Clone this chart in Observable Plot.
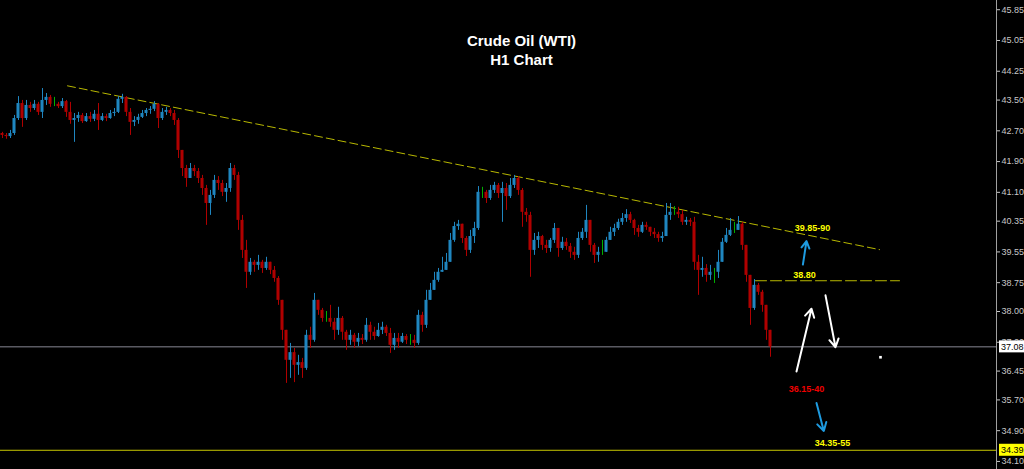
<!DOCTYPE html>
<html><head><meta charset="utf-8">
<script src="https://cdn.jsdelivr.net/npm/d3@7"></script>
<script src="https://cdn.jsdelivr.net/npm/@observablehq/plot@0.6"></script>
<style>html,body{margin:0;padding:0;background:#000;} #chart{width:1024px;height:469px;overflow:hidden}</style>
</head><body><div id="chart"></div>
<script>
// ---- Data (H1 candles) ----
const firstOpen = 42.63;
const closes = [
42.58,42.55,42.63,43.02,43.41,43.02,43.36,43.28,43.39,43.18,
43.49,43.57,43.39,43.39,43.33,43.46,43.18,42.97,43.02,43.10,
42.94,43.07,43.00,43.13,42.97,43.07,43.02,43.15,43.18,43.52,
43.57,43.18,42.92,42.97,43.05,43.15,43.23,43.26,43.39,43.02,
43.18,43.23,43.15,42.97,42.19,41.72,41.46,41.72,41.64,41.46,
41.20,40.81,41.02,41.41,41.33,41.10,41.20,41.72,41.54,40.37,
39.59,39.02,39.28,39.20,39.28,39.12,39.28,39.07,38.86,38.29,
37.51,36.73,36.93,36.60,36.67,36.52,37.38,37.25,38.29,38.03,
37.82,37.82,37.72,37.51,37.82,37.46,37.25,37.38,37.20,37.30,
37.25,37.64,37.46,37.35,37.51,37.59,37.43,37.12,37.30,37.20,
37.35,37.25,37.25,37.17,37.90,37.64,38.29,38.55,38.81,39.02,
39.07,39.28,39.85,40.21,40.27,39.90,39.59,39.95,40.16,41.10,
41.10,40.94,41.15,41.28,41.07,41.20,40.99,41.28,41.46,41.15,
40.58,40.50,39.59,39.85,39.95,39.72,39.64,39.85,40.16,39.64,
39.80,39.69,39.54,39.46,39.90,40.06,40.37,39.72,39.46,39.54,
39.54,39.85,40.06,40.16,40.32,40.42,40.52,40.37,40.16,40.06,
40.24,40.19,40.06,40.00,39.90,39.95,40.50,40.58,40.58,40.52,
40.32,40.37,40.32,39.28,39.07,39.12,38.94,39.02,39.02,39.28,
39.80,39.98,40.11,40.11,40.27,39.72,38.94,38.08,38.68,38.50,
38.16,37.51,37.08];
const highs = [
42.66,42.63,42.71,43.10,43.59,43.49,43.49,43.44,43.49,43.44,
43.80,43.67,43.62,43.57,43.44,43.54,43.49,43.44,43.15,43.18,
43.15,43.15,43.18,43.23,43.41,43.15,43.13,43.23,43.28,43.59,
43.65,43.59,43.28,43.07,43.13,43.23,43.28,43.33,43.46,43.41,
43.28,43.31,43.28,43.23,43.02,42.19,41.80,41.85,41.80,41.72,
41.54,41.28,41.15,41.54,41.51,41.41,41.33,41.85,41.80,41.62,
40.50,39.85,39.38,39.33,39.46,39.33,39.41,39.28,39.17,38.91,
38.29,37.51,37.17,37.04,36.86,36.78,37.51,37.59,38.47,38.29,
38.08,38.00,38.16,37.82,38.11,37.87,37.51,37.51,37.43,37.43,
37.40,37.82,37.72,37.59,37.69,37.72,37.64,37.56,37.43,37.43,
37.43,37.40,37.40,37.38,38.03,37.98,38.55,38.73,39.02,39.12,
39.41,39.51,40.03,40.32,40.37,40.27,39.95,40.11,40.32,41.25,
41.23,41.15,41.28,41.36,41.33,41.36,41.33,41.46,41.54,41.51,
41.20,40.68,40.58,40.03,40.06,39.98,39.85,39.90,40.29,40.16,
39.93,39.90,39.77,39.67,40.06,40.16,40.76,40.37,39.77,39.67,
39.85,39.93,40.19,40.27,40.40,40.55,40.65,40.58,40.40,40.24,
40.32,40.32,40.19,40.16,40.06,40.06,40.81,40.81,40.73,40.71,
40.63,40.45,40.42,40.45,39.46,39.41,39.22,39.20,39.12,39.59,
39.90,40.16,40.42,40.32,40.47,40.32,39.72,38.94,38.83,38.73,
38.55,38.16,37.38];
const lows = [
42.50,42.48,42.50,42.58,42.97,42.79,42.97,43.18,43.23,43.10,
43.02,43.36,43.31,43.33,43.28,43.28,43.05,42.87,42.40,42.92,
42.89,42.92,42.92,42.94,42.71,42.94,42.94,43.00,43.07,43.15,
43.41,43.07,42.58,42.81,42.87,43.02,43.07,43.13,43.20,42.76,
42.97,43.10,43.07,42.84,41.98,41.51,41.23,41.46,41.51,41.33,
41.02,40.24,40.50,40.94,41.15,40.99,40.84,41.10,41.41,40.11,
39.38,38.60,38.94,39.02,39.07,38.99,39.07,38.96,38.76,38.16,
37.25,36.13,36.26,36.15,36.34,36.26,36.47,37.04,37.20,37.90,
37.72,37.72,37.59,37.25,37.38,37.25,36.99,37.12,37.04,37.09,
37.14,37.20,37.25,37.25,37.33,37.40,37.35,36.91,36.99,37.04,
37.17,37.14,37.12,37.04,37.12,37.46,37.56,38.29,38.55,38.76,
39.02,39.07,39.28,39.80,40.11,39.77,39.43,39.51,39.77,40.11,
40.94,40.81,40.89,41.07,40.94,40.32,40.63,40.94,41.20,41.02,
40.19,40.32,38.89,39.46,39.64,39.59,39.51,39.54,39.77,39.41,
39.59,39.59,39.38,39.33,39.38,39.85,39.90,39.54,39.25,39.28,
39.46,39.59,39.85,39.95,40.11,40.24,40.32,40.29,39.98,39.93,
40.03,40.11,39.95,39.90,39.80,39.80,40.11,40.37,40.50,40.42,
40.24,40.24,40.21,39.07,38.42,38.89,38.76,38.81,38.73,38.86,
39.28,39.77,39.95,40.03,40.11,39.59,38.76,37.64,38.03,38.42,
37.98,37.25,36.81];

const yTicks = [45.85,45.05,44.25,43.50,42.70,41.90,41.10,40.35,39.55,38.75,38.00,37.20,36.45,35.70,34.90,34.10];
const currentPrice = 37.08;
const targetLine = 34.39;
const titleLines = ["Crude Oil (WTI)", "H1 Chart"];

// ---- Annotations (in bar index / price units) ----
const trendBars = [16.25, 219.25];
const trendPrices = [43.87, 39.61];
const levelBars = [188.25, 224.25];
const levelPrice = 38.80;
const labelTexts = ["39.85-90", "38.80", "36.15-40", "34.35-55"];
const labelBars = [202.5, 200.5, 201, 207.5];
const labelPrices = [40.18, 38.94, 35.98, 34.57];
const arrowFromBar = [200.1, 198.5, 205.75, 203.5];
const arrowFromPrice = [39.22, 36.44, 38.42, 35.62];
const arrowToBar = [201, 202.25, 208.25, 205.33];
const arrowToPrice = [39.83, 38.07, 37.07, 34.89];
const markerBar = 219.5, markerPrice = 36.81;

// ---- Styles ----
const UP = "#1f86c0", DOWN = "#b00000", FLAT = "#00b000";
const labelColors = ["#ffff00", "#ffff00", "#f00000", "#ffff00"];
const arrowColors = ["#1e9be0", "#ffffff", "#ffffff", "#1e9be0"];

const candles = closes.map((c, i) => ({
  i, open: i === 0 ? firstOpen : closes[i - 1], close: c, high: highs[i], low: lows[i]
}));
const candleColor = d => d.close > d.open ? UP : d.close < d.open ? DOWN : FLAT;
const trend = trendBars.map((b, k) => ({x: b, y: trendPrices[k]}));
const level = levelBars.map(b => ({x: b, y: levelPrice}));
const labels = labelTexts.map((t, k) => ({t, x: labelBars[k], y: labelPrices[k], c: labelColors[k]}));
const arrows = arrowFromBar.map((b, k) => ({x1: b, y1: arrowFromPrice[k], x2: arrowToBar[k], y2: arrowToPrice[k], c: arrowColors[k]}));

const chart = Plot.plot({
  width: 1024, height: 469,
  marginLeft: 0, marginRight: 28, marginTop: 0, marginBottom: 0,
  style: {background: "#000", color: "#c8c8c8", fontFamily: "Liberation Sans, Arial, sans-serif", overflow: "visible"},
  x: {domain: [-0.5, 248.5], axis: null},
  y: {domain: [33.89, 46.09], axis: null},
  color: {type: "identity"},
  marks: [
    Plot.ruleY([currentPrice], {stroke: "#5a5a62", strokeWidth: 1.5}),
    Plot.ruleY([targetLine], {stroke: "#c8c800", strokeWidth: 1}),
    Plot.line(trend, {x: "x", y: "y", stroke: "#b8b800", strokeWidth: 1, strokeDasharray: "8,4"}),
    Plot.line(level, {x: "x", y: "y", stroke: "#b8b800", strokeWidth: 1, strokeDasharray: "11,4"}),
    Plot.ruleX(candles, {x: "i", y1: d => Math.min(d.low, d.open, d.close), y2: d => Math.max(d.high, d.open, d.close), stroke: candleColor, strokeWidth: 1}),
    Plot.rect(candles, {x1: d => d.i - 0.38, x2: d => d.i + 0.38, y1: d => Math.min(d.open, d.close), y2: d => Math.max(d.open, d.close), fill: candleColor}),
    Plot.text(labels, {x: "x", y: "y", text: "t", fill: "c", fontWeight: "bold", fontSize: 9}),
    Plot.arrow(arrows, {x1: "x1", y1: "y1", x2: "x2", y2: "y2", stroke: "c", strokeWidth: 2, headLength: 7}),
    Plot.dot([{x: markerBar, y: markerPrice}], {x: "x", y: "y", symbol: "square", r: 1.5, fill: "#ffffff"}),
    Plot.text([titleLines[0]], {text: d => d, frameAnchor: "top", dx: 23, dy: 41, lineAnchor: "middle", fill: "#ffffff", fontWeight: "bold", fontSize: 15}),
    Plot.text([titleLines[1]], {text: d => d, frameAnchor: "top", dx: 23, dy: 60, lineAnchor: "middle", fill: "#ffffff", fontWeight: "bold", fontSize: 15}),
    Plot.axisY({anchor: "right", ticks: yTicks, tickFormat: d => d.toFixed(2), tickSize: 3, tickPadding: 2, fontSize: 9}),
    Plot.frame({anchor: "right", stroke: "#a0a0a0"})
  ]
});

// price boxes on the axis, placed with the chart's own scales
const ys = chart.scale("y"), xs = chart.scale("x");
const axisX = xs.apply(xs.domain[1]);
const boxes = [{v: currentPrice, bg: "#ffffff"}, {v: targetLine, bg: "#ffff00"}];
const g = d3.select(chart).append("g").attr("text-anchor", "start");
boxes.forEach(b => {
  const yy = ys.apply(b.v);
  g.append("rect").attr("x", axisX + 3).attr("y", yy - 6).attr("width", 25).attr("height", 12).attr("fill", b.bg);
  g.append("text").attr("x", axisX + 5).attr("y", yy).attr("dy", "0.35em")
    .attr("font-size", 9).attr("fill", "#000").attr("text-anchor", "start").text(b.v.toFixed(2));
});

document.getElementById("chart").appendChild(chart);
</script>
</body></html>
